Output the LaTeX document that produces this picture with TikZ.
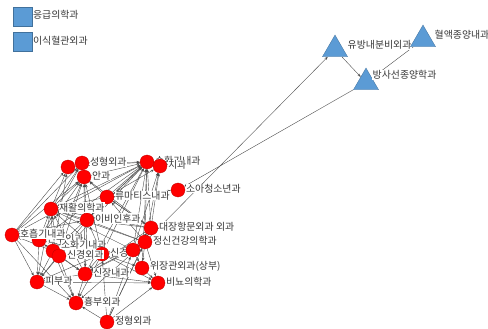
\documentclass[tikz,border=0pt]{standalone}
\usepackage{fontspec}
\setmainfont{Noto Sans CJK KR}
\usetikzlibrary{arrows.meta,shapes.geometric}
\pgfdeclarelayer{bg}
\pgfsetlayers{bg,main}
\definecolor{tri}{HTML}{5B9BD5}
\definecolor{triedge}{HTML}{41719C}
\tikzset{
 rn/.style={circle,fill=red,draw=red!75!black,line width=0.3pt,minimum size=14pt,inner sep=0pt},
 lab/.style={fill=white,inner sep=0.5pt,font=\fontsize{9.9}{10}\selectfont,text=black!78},
 rl/.style={label={[lab,label distance=0.2pt,yshift=1.5pt]right:#1}},
 tn/.style={regular polygon,regular polygon sides=3,fill=tri,draw=triedge,line width=0.3pt,minimum size=29pt,inner sep=0pt},
 sq/.style={rectangle,fill=tri,draw=triedge,line width=0.3pt,minimum size=19pt,inner sep=0pt},
 ed/.style={draw=black!70,line width=0.4pt,-{Stealth[length=3.2pt,width=2.6pt]}},
}
\begin{document}
\begin{tikzpicture}[x=1pt,y=-1pt]
\useasboundingbox (0,0) rectangle (488,329);
% legend squares
\node[sq,rl=응급의학과] (s1) at (22.5,16.5) {};
\node[sq,rl=이식혈관외과] (s2) at (22.5,42) {};
% triangles
\node[tn] (u) at (335,49.5) {};
\node[lab,anchor=west] (ul) at (347,45) {유방내분비외과};
\node[tn] (h) at (423,39.5) {};
\node[lab,anchor=west] (hl) at (434,35) {혈액종양내과};
\node[tn] (ts) at (366,82.5) {};
\node[lab,anchor=west] (tsl) at (372,75) {방사선종양학과};
% red nodes
\node[rn] (n25) at (68,167) {};
\node[rn,rl=성형외과] (n2) at (82,163) {};
\node[rn,rl=안과] (n3) at (84,177) {};
\node[rn,rl=순환기내과] (n4) at (147,162) {};
\node[rn,rl=치과] (n5) at (160,166) {};
\node[rn,rl=류마티스내과] (n6) at (107,197) {};
\node[rn,rl=소아청소년과] (n7) at (178,190) {};
\node[rn,rl=이비인후과] (n9) at (87,220) {};
\node[rn,rl=재활의학과] (n8) at (51,209) {};
\node[rn,rl=산부인과] (n11) at (39,240) {};
\node[rn,rl=호흡기내과] (n10) at (12,235) {};
\node[rn,label={[lab,label distance=0.2pt,yshift=6pt]right:소화기내과}] (n12) at (53,251) {};
\node[rn,rl=신경과] (n14) at (102,254) {};
\node[rn,rl=신경외과] (n13) at (59,256) {};
\node[rn] (n24) at (133,250) {};
\node[rn,label={[lab,name=l15,label distance=0.2pt,yshift=1.5pt]right:대장항문외과}] (n15) at (151,228) {};
\node[lab,anchor=west] (ex) at ([xshift=1pt]l15.east) {외과};
\node[rn,rl=정신건강의학과] (n17) at (145,242) {};
\node[rn,rl=위장관외과(상부)] (n18) at (142,268) {};
\node[rn,rl=비뇨의학과] (n19) at (158,283) {};
\node[rn,rl=신장내과] (n20) at (85,274) {};
\node[rn,rl=피부과] (n21) at (37,282) {};
\node[rn,rl=흉부외과] (n22) at (76,303) {};
\node[rn,rl=정형외과] (n23) at (107,322) {};
\begin{pgfonlayer}{bg}
\foreach \a/\b in {
 n6/n4,n8/n4,n9/n4,n10/n4,n11/n4,n12/n4,n13/n4,n14/n4,n15/n4,n17/n4,n24/n4,n2/n4,n3/n4,n25/n4,n20/n4,n18/n4,
 n6/n5,n15/n5,n17/n5,n24/n5,
 n8/n3,n9/n3,n10/n3,n11/n3,n12/n3,n13/n3,n14/n3,n20/n3,n6/n3,n15/n3,
 n10/n2,n8/n2,n11/n2,
 n10/n25,n8/n25,n12/n25,
 n9/n8,n14/n8,n15/n8,n17/n8,n24/n8,n12/n8,n13/n8,n20/n8,n11/n8,n6/n8,
 n15/n9,n17/n9,n14/n9,n10/n9,
 n15/n6,n17/n6,n9/n6,
 n11/n10,n12/n10,
 n13/n11,n14/n11,
 n10/n21,n11/n21,n12/n21,n13/n21,n14/n21,n8/n21,n9/n21,n20/n21,
 n21/n22,n20/n22,n10/n22,n23/n22,n13/n22,n12/n22,n14/n22,n17/n22,
 n13/n20,n14/n20,n17/n20,n24/n20,n15/n20,n12/n20,n9/n20,
 n20/n19,n23/n19,n18/n19,n17/n19,n14/n19,n21/n19,
 n24/n14,n17/n14,
 n17/n18,n24/n18,n14/n18,
 n15/n17,n24/n17,
 n6/n15,n24/n15,
 n6/n7,
 n23/n14,n23/n24,n23/n17,n23/n15,
 n17/u,ts/n7,u/ts,h/ts}
 \draw[ed] (\a) -- (\b);
\end{pgfonlayer}
\end{tikzpicture}
\end{document}
